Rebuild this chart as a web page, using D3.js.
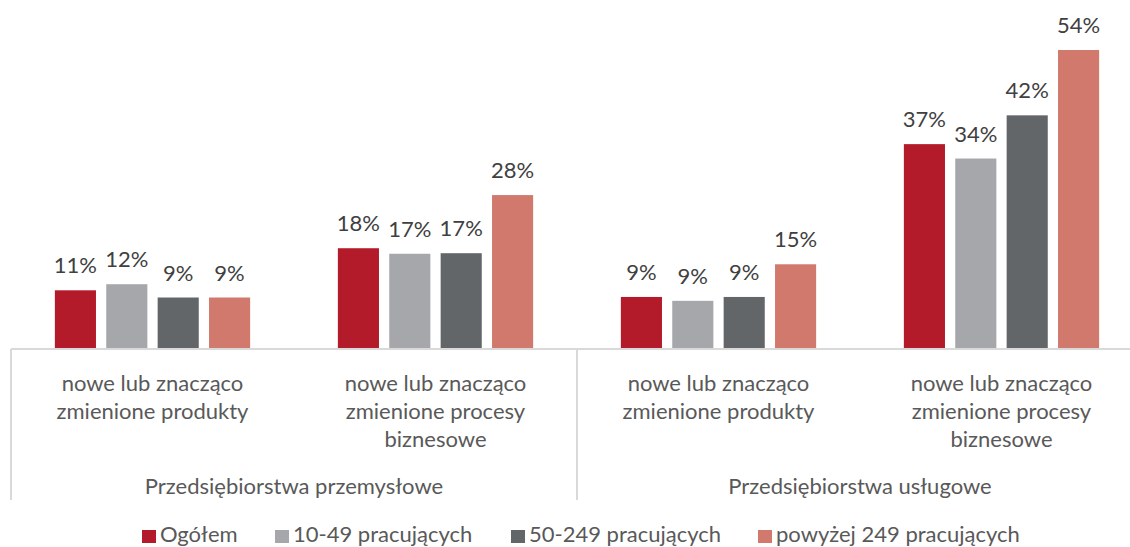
<!DOCTYPE html>
<html>
<head>
<meta charset="utf-8">
<script src="https://d3js.org/d3.v7.min.js"></script>
<style>
  body { margin: 0; background: #fff; }
  text { font-family: Lato, "Open Sans", sans-serif; fill: #595959; }
</style>
</head>
<body>
<script>
// categories (bottom level) and their groups (second level)
var categories = [
  "nowe lub znacząco|zmienione produkty",
  "nowe lub znacząco|zmienione procesy|biznesowe",
  "nowe lub znacząco|zmienione produkty ",
  "nowe lub znacząco|zmienione procesy|biznesowe "
];
var groups = ["Przedsiębiorstwa przemysłowe", "Przedsiębiorstwa usługowe"];
var seriesNames = ["Ogółem", "10-49 pracujących", "50-249 pracujących", "powyżej 249 pracujących"];
var colors = ["#b41b2a", "#a5a7aa", "#626669", "#d2796e"];

// values in %, one array per series (order follows categories)
var ogolem   = [10.6, 18.2, 9.4, 37.0];
var p10_49   = [11.7, 17.2, 8.7, 34.4];
var p50_249  = [9.3, 17.3, 9.4, 42.2];
var p250plus = [9.3, 27.8, 15.3, 54.0];
var series = [ogolem, p10_49, p50_249, p250plus];

var W = 1130, H = 547;
var baseY = 349;
var fs = "22px";

var svg = d3.select("body").append("svg")
    .attr("width", W).attr("height", H);

var x0 = d3.scaleBand()
    .domain(categories)
    .range([11, 1143])
    .paddingInner(0.31)
    .paddingOuter(0.155);

var x1 = d3.scaleBand()
    .domain(d3.range(seriesNames.length))
    .range([0, x0.bandwidth()])
    .paddingInner(0.2);

var y = d3.scaleLinear()
    .domain([0, 54])
    .range([baseY, 50]);

var rows = categories.map(function(c, i) {
    return { cat: c, vals: series.map(function(s) { return s[i]; }) };
});

var g = svg.selectAll("g.cat")
    .data(rows)
    .enter().append("g")
    .attr("class", "cat")
    .attr("transform", function(d) { return "translate(" + x0(d.cat) + ",0)"; });

g.selectAll("rect")
    .data(function(d) { return d.vals; })
    .enter().append("rect")
    .attr("x", function(d, i) { return x1(i); })
    .attr("y", function(d) { return y(d); })
    .attr("width", x1.bandwidth())
    .attr("height", function(d) { return baseY - y(d); })
    .style("fill", function(d, i) { return colors[i]; });

g.selectAll("text.val")
    .data(function(d) { return d.vals; })
    .enter().append("text")
    .attr("class", "val")
    .attr("text-anchor", "middle")
    .attr("x", function(d, i) { return x1(i) + x1.bandwidth() / 2; })
    .attr("y", function(d) { return y(d) - 17; })
    .style("font-size", fs)
    .style("fill", "#404040")
    .text(function(d) { return Math.round(d) + "%"; });

// axis line and group separators
svg.append("line")
    .attr("x1", 11).attr("x2", W)
    .attr("y1", baseY).attr("y2", baseY)
    .style("stroke", "#d9d9d9").style("stroke-width", 2);

var step = x0.step();
[0, 2].forEach(function(k) {
    var xs = 11 + k * step;
    svg.append("line")
        .attr("x1", xs).attr("x2", xs)
        .attr("y1", baseY).attr("y2", 500)
        .style("stroke", "#d9d9d9").style("stroke-width", 2);
});

// category labels
svg.selectAll("text.cat")
    .data(categories)
    .enter().append("text")
    .attr("class", "cat")
    .attr("text-anchor", "middle")
    .attr("x", function(d) { return x0(d) + x0.bandwidth() / 2; })
    .attr("y", 391)
    .style("font-size", fs)
    .each(function(d) {
        var t = d3.select(this);
        d.trim().split("|").forEach(function(line, i) {
            t.append("tspan")
                .attr("x", t.attr("x"))
                .attr("dy", i === 0 ? 0 : 28)
                .text(line);
        });
    });

// group labels
svg.selectAll("text.grp")
    .data(groups)
    .enter().append("text")
    .attr("class", "grp")
    .attr("text-anchor", "middle")
    .attr("x", function(d, i) { return 11 + step * (2 * i + 1); })
    .attr("y", 494)
    .style("font-size", fs)
    .text(function(d) { return d; });

// legend
var legendX = [142, 275, 511, 758];
var lg = svg.selectAll("g.leg")
    .data(seriesNames)
    .enter().append("g")
    .attr("class", "leg")
    .attr("transform", function(d, i) { return "translate(" + legendX[i] + ",529)"; });

lg.append("rect")
    .attr("y", 1)
    .attr("width", 14).attr("height", 13)
    .style("fill", function(d, i) { return colors[i]; });

lg.append("text")
    .attr("x", 18).attr("y", 13)
    .style("font-size", fs)
    .text(function(d) { return d; });
</script>
</body>
</html>
